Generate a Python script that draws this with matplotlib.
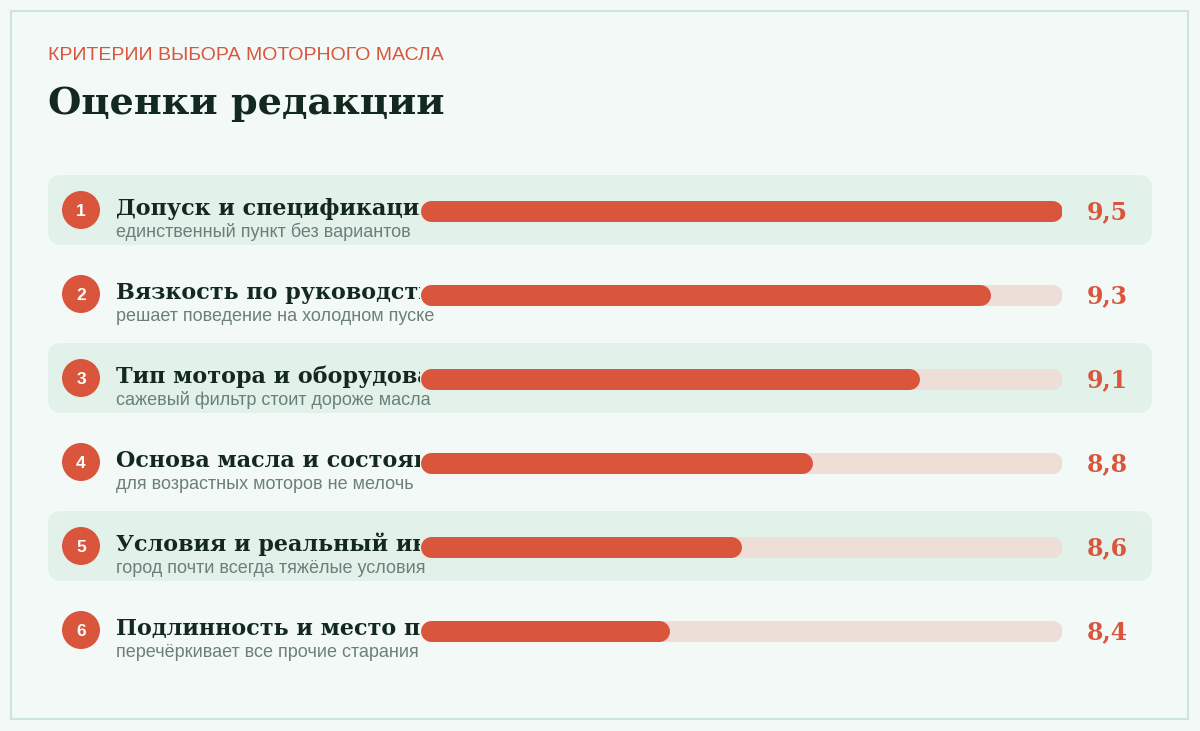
import matplotlib
matplotlib.use("Agg")
import matplotlib.pyplot as plt
from matplotlib.patches import FancyBboxPatch, Rectangle, Circle

# data
criteria = [
    "Допуск и спецификация",
    "Вязкость по руководству",
    "Тип мотора и оборудование",
    "Основа масла и состояние",
    "Условия и реальный интервал",
    "Подлинность и место покупки",
]
notes = [
    "единственный пункт без вариантов",
    "решает поведение на холодном пуске",
    "сажевый фильтр стоит дороже масла",
    "для возрастных моторов не мелочь",
    "город почти всегда тяжёлые условия",
    "перечёркивает все прочие старания",
]
scores = [9.5, 9.3, 9.1, 8.8, 8.6, 8.4]
score_labels = ["9,5", "9,3", "9,1", "8,8", "8,6", "8,4"]
scale_min, scale_max = 7.7, 9.5

BG = "#f2f9f6"
BORDER = "#cfe4dc"
BAND = "#e2f1ea"
TRACK = "#eeded8"
RED = "#d9553b"
DARK = "#13281f"
GRAY = "#6d7f79"
SERIF = ["DejaVu Serif"]
SANS = ["Liberation Sans", "DejaVu Sans"]

W, H = 1200, 731
fig = plt.figure(figsize=(W / 100, H / 100), dpi=100, facecolor=BG)

# pixel-space axes for layout
ax = fig.add_axes([0, 0, 1, 1])
ax.set_xlim(0, W)
ax.set_ylim(H, 0)
ax.axis("off")

ax.add_patch(Rectangle((11, 11), 1177, 708, fill=False, ec=BORDER, lw=1.5))

ax.text(48, 56, "КРИТЕРИИ ВЫБОРА МОТОРНОГО МАСЛА", color=RED, fontsize=14,
        family=SANS, va="center", ha="left")
ax.text(48, 103, "Оценки редакции", color=DARK, fontsize=27.5, family=SERIF,
        weight="bold", va="center", ha="left")

row0, pitch = 210, 84
centers = [row0 + pitch * i for i in range(len(scores))]

for i, yc in enumerate(centers):
    if i % 2 == 0:
        ax.add_patch(FancyBboxPatch((48 + 14, yc - 35 + 14), 1104 - 28, 70 - 28,
                                    boxstyle="round,pad=14", fc=BAND, ec="none"))
    ax.add_patch(Circle((81, yc), 19, fc=RED, ec="none"))
    ax.text(81, yc + 1, str(i + 1), color="white", fontsize=12.5, family=SANS,
            weight="bold", ha="center", va="center")
    ax.text(116, yc + 27, notes[i], color=GRAY, fontsize=13, family=SANS,
            ha="left", va="baseline")
    ax.text(1087, yc + 2, score_labels[i], color=RED, fontsize=17, family=SERIF,
            weight="bold", ha="left", va="center")

# label axes, clipped where the bars begin
lx = fig.add_axes([0, 0, 420 / W, 1])
lx.set_xlim(0, 420)
lx.set_ylim(H, 0)
lx.axis("off")
for i, yc in enumerate(centers):
    lx.text(116, yc + 5, criteria[i], color=DARK, fontsize=16, family=SERIF,
            weight="bold", ha="left", va="baseline", clip_on=True)

# bar axes: x in score units
bx = fig.add_axes([420 / W, 0, 642 / W, 1])
bx.set_xlim(scale_min, scale_max)
bx.set_ylim(H, 0)
bx.axis("off")
bar_px = 21
lw = bar_px * 72 / 100
cap = (bar_px / 2) * (scale_max - scale_min) / 642
for i, yc in enumerate(centers):
    y = yc + 1
    bx.plot([scale_min + cap, scale_max - cap], [y, y], color=TRACK, lw=lw,
            solid_capstyle="round")
    bx.plot([scale_min + cap, scores[i] - cap], [y, y], color=RED, lw=lw,
            solid_capstyle="round")

fig.savefig("out.png", dpi=100, facecolor=BG)
